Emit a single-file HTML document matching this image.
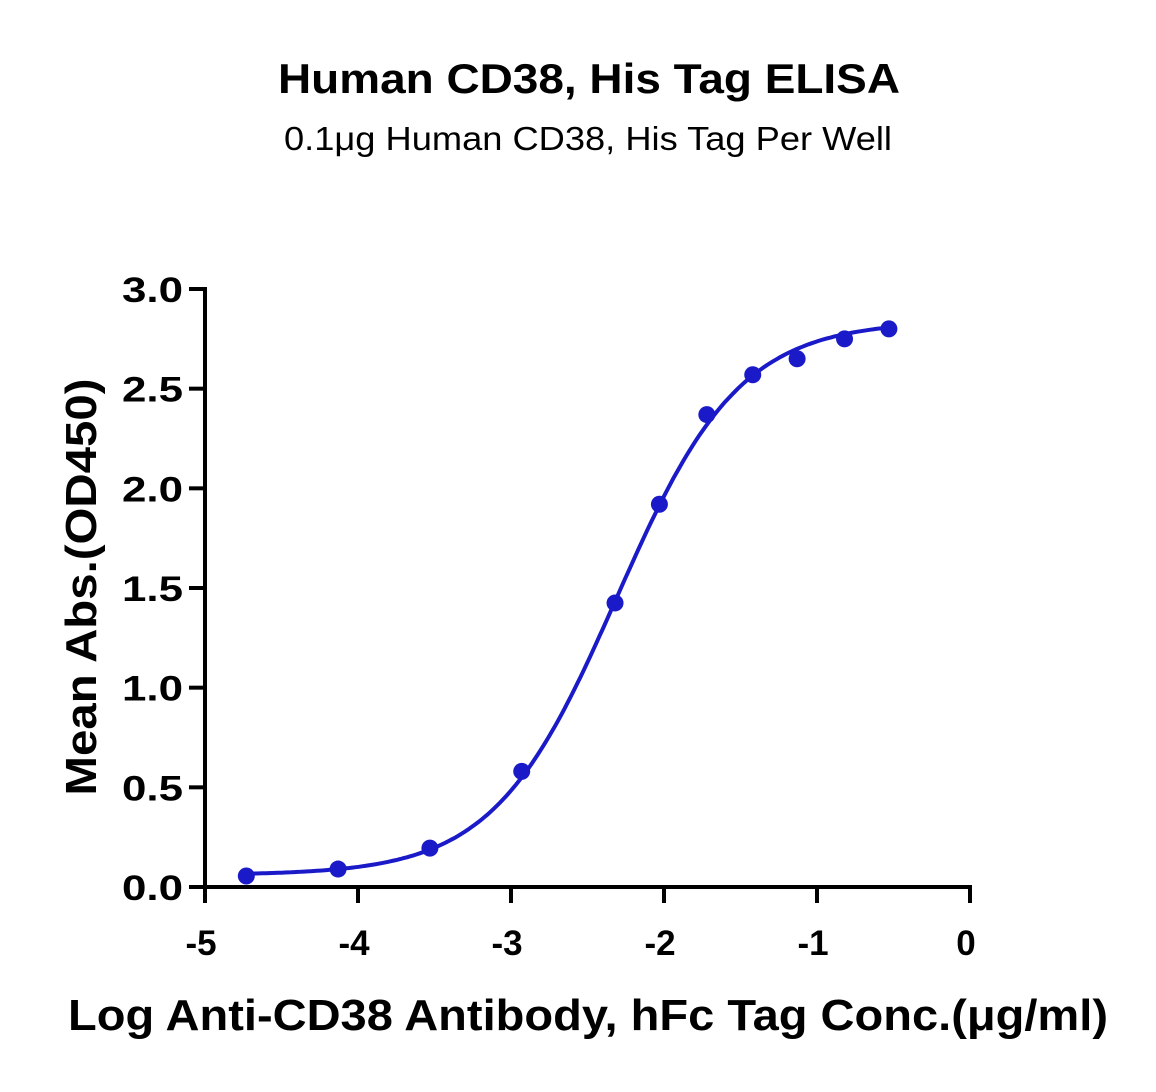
<!DOCTYPE html>
<html><head><meta charset="utf-8"><style>
body{margin:0;background:#fff}
svg text{font-family:"Liberation Sans",sans-serif}
</style></head><body>
<svg id="chart" width="1156" height="1087" xmlns="http://www.w3.org/2000/svg">
<text x="589" y="93" text-anchor="middle" font-size="42" font-weight="bold" textLength="622" lengthAdjust="spacingAndGlyphs">Human CD38, His Tag ELISA</text>
<text x="588" y="150" text-anchor="middle" font-size="33" textLength="608" lengthAdjust="spacingAndGlyphs">0.1μg Human CD38, His Tag Per Well</text>
<g id="axes"></g>
<g id="marks"></g>
<text x="588" y="1030" text-anchor="middle" font-size="44" font-weight="bold" textLength="1040" lengthAdjust="spacingAndGlyphs">Log Anti-CD38 Antibody, hFc Tag Conc.(μg/ml)</text>
<text transform="translate(96,587) rotate(-90)" text-anchor="middle" font-size="44" font-weight="bold" textLength="417" lengthAdjust="spacingAndGlyphs">Mean Abs.(OD450)</text>
</svg>
<script>
const xVals=[-4.73,-4.13,-3.53,-2.93,-2.32,-2.03,-1.72,-1.42,-1.13,-0.82,-0.53];
const yVals=[0.055,0.09,0.195,0.58,1.425,1.92,2.37,2.57,2.65,2.75,2.80];
const fitParams=[0.06,2.84,-2.31,1.08]; // bottom, top, logEC50, hill
const xTicks=[-5,-4,-3,-2,-1,0];
const xTickLabels=["-5","-4","-3","-2","-1","0"];
const yTicks=[0,0.5,1,1.5,2,2.5,3];
const yTickLabels=["0.0","0.5","1.0","1.5","2.0","2.5","3.0"];
const X0=205,X1=970,Y0=887,Y1=289;
const sx=v=>X0+(v+5)/5*(X1-X0);
const sy=v=>Y0-v/3*(Y0-Y1);
const NS="http://www.w3.org/2000/svg";
const axes=document.getElementById('axes'),marks=document.getElementById('marks');
function mk(t,a,p){const e=document.createElementNS(NS,t);for(const k in a)e.setAttribute(k,a[k]);p.appendChild(e);return e;}
let l=mk('line',{x1:X0,y1:Y0,x2:X1+2,y2:Y0,stroke:'#000','stroke-width':4},axes);


l=mk('line',{x1:X0,y1:Y1-2,x2:X0,y2:Y0+2,stroke:'#000','stroke-width':4},axes);


xTicks.forEach((t,i)=>{
  const tk=mk('line',{x1:sx(t),y1:Y0,x2:sx(t),y2:Y0+16,stroke:'#000','stroke-width':4},axes);
  
  
  const tx=mk('text',{x:sx(t)-4,y:Y0+68,'text-anchor':'middle','font-size':35,'font-weight':'bold'},axes);
  tx.textContent=xTickLabels[i];
  
  
});
yTicks.forEach((t,i)=>{
  const tk=mk('line',{x1:X0-16,y1:sy(t),x2:X0,y2:sy(t),stroke:'#000','stroke-width':4},axes);
  
  
  const tx=mk('text',{x:X0-22,y:sy(t)+13,'text-anchor':'end','font-size':35,'font-weight':'bold','textLength':61,'lengthAdjust':'spacingAndGlyphs'},axes);
  tx.textContent=yTickLabels[i];
  
  
});
const [b,tp,ec,h]=fitParams;
let d='';
for(let i=0;i<=200;i++){const x=-4.73+i*(4.2/200);const y=b+(tp-b)/(1+Math.pow(10,(ec-x)*h));d+=(i?'L':'M')+sx(x).toFixed(1)+','+sy(y).toFixed(1);}
const c=mk('path',{d:d,fill:'none',stroke:'#1a1ac8','stroke-width':4},marks);


xVals.forEach((x,i)=>{
  const p=mk('circle',{cx:sx(x),cy:sy(yVals[i]),r:8.5,fill:'#1a1ac8'},marks);
  
  
});
</script>
</body></html>
